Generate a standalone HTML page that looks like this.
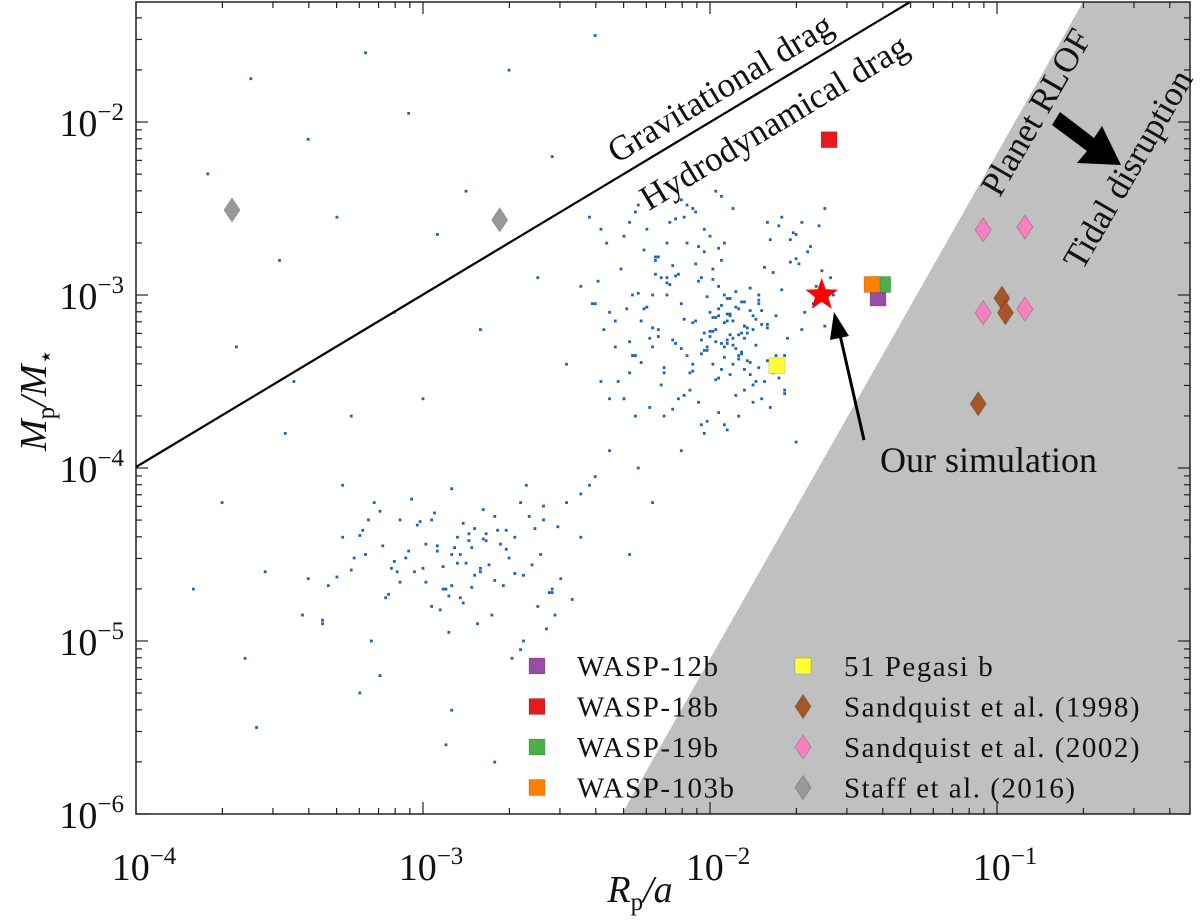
<!DOCTYPE html>
<html><head><meta charset="utf-8"><style>
body{margin:0;background:#fff;}
svg text{font-family:"Liberation Serif",serif;fill:#111;}
</style></head><body>
<svg id="chart" width="1200" height="919" xmlns="http://www.w3.org/2000/svg">
<g id="region"></g>
<g id="dots"></g>
<g id="axes"></g>
<g id="ann"></g>
<g id="marks"></g>
<g id="legend"></g>
</svg>
<script>
const xTicks=[-4,-3,-2,-1];
const yTicks=[-6,-5,-4,-3,-2];
const logRp=[-2.05,-1.98,-2.10,-1.92,-2.00,-1.95,-2.15,-1.88,-2.02,-1.97,-2.08,-1.90,-2.12,-1.85,-2.03,-1.99,-1.94,-2.06,-2.18,-1.91,
-2.01,-1.96,-2.09,-1.87,-2.04,-2.13,-1.93,-1.99,-2.07,-1.89,-2.20,-1.82,-2.11,-1.95,-2.00,-1.86,-2.16,-1.98,-2.05,-1.92,
-1.80,-2.25,-1.84,-2.22,-1.96,-2.03,-1.90,-2.14,-1.97,-2.01,-1.78,-2.28,-1.88,-2.19,-1.93,-2.06,-1.99,-2.10,-1.83,-2.02,
-2.30,-1.75,-2.24,-1.81,-2.17,-1.94,-2.08,-1.86,-2.12,-1.91,-2.35,-1.72,-2.27,-1.79,-2.21,-1.89,-2.04,-1.98,-2.15,-1.85,
-2.40,-1.70,-2.33,-1.76,-2.26,-1.83,-2.09,-1.95,-2.13,-1.88,-2.45,-1.68,-2.38,-1.74,-2.29,-1.80,-2.02,-1.97,-2.06,-1.92,
-2.85,-2.90,-2.80,-2.95,-2.75,-2.88,-3.00,-2.70,-2.92,-2.82,-3.05,-2.65,-2.87,-2.78,-2.97,-2.72,-3.10,-2.60,-2.84,-2.93,
-3.15,-2.55,-2.89,-2.76,-3.02,-2.68,-3.20,-2.50,-2.81,-2.99,-3.08,-2.63,-2.86,-2.74,-3.25,-2.45,-2.91,-2.79,-3.12,-2.58,
-3.30,-2.42,-2.94,-2.71,-3.18,-2.53,-2.83,-2.96,-3.35,-2.40,-2.77,-3.04,-2.66,-3.22,-2.48,-2.90,-3.40,-2.57,-3.01,-2.69,
-3.75,-3.60,-3.40,-3.20,-3.05,-2.85,-2.70,-2.55,-2.40,-3.50,-3.30,-3.10,-2.95,-2.60,-3.65,-3.45,-3.25,-2.80,-2.50,-2.30,
-3.70,-3.55,-3.35,-3.15,-2.90,-2.65,-2.45,-2.35,-2.25,-3.80,-3.62,-3.48,-3.28,-3.00,-2.75,-2.20,-2.10,-1.90,-1.70,-3.58,
-3.42,-3.22,-3.08,-2.92,-2.55,-2.38,-2.28,-2.15,-1.95,-1.60,
-1.93,-1.88,-1.96,-1.84,-1.91,-1.99,-1.86,-1.94,-1.90,-1.97,-1.87,-1.92,-2.00,-1.83,-1.95,-1.89,-1.98,-1.85,-1.93,-1.90,
-1.94,-1.88,-2.01,-1.82,-1.96,-1.91,-1.87,-1.99,-1.84,-1.95,-1.89,-1.92,-2.03,-1.86,-1.97,-1.93,-1.80,-2.02,-1.88,-1.94,
-2.42,-2.36,-2.31,-2.27,-2.22,-2.18,-2.33,-2.25,-2.39,-2.20,-2.30,-2.16,-2.41,-2.28,-2.35,-2.23,-2.37,-2.19,-2.32,-2.26,
-1.62,-1.66,-1.58,-1.72,-1.64,-1.69,-1.60,-1.75,-1.67,-1.63,-1.71,-1.57,-1.73,-1.65,-1.61,-1.77,-1.68,-1.59,-1.74,-1.70,
-2.10,-2.05,-1.98,-2.14,-2.08,-2.02,-1.96,-2.12,-2.06,-2.00,-2.16,-2.04,-1.94,-2.09,-2.13,-2.01,-2.07,-1.97,-2.11,-2.03,
-1.85,-1.78,-1.82,-1.76,-1.80,-1.74,-1.83,-1.79,-1.77,-1.81,-2.20,-2.24,-2.17,-2.21,-2.26,-2.19,-2.23,-2.15,-2.28,-2.18,
-2.95,-2.82,-2.78,-2.88,-2.73,-2.93,-2.86,-2.80,-2.99,-2.75,-3.06,-2.84,-2.91,-2.71,-3.03,-2.87,-2.79,-2.97,-2.83,-2.90,
-2.68,-2.62,-2.58,-2.52,-2.66,-2.56,-2.61,-2.54,-2.64,-2.59,-3.14,-3.19,-3.09,-3.24,-3.13,-3.28,-3.17,-3.11,-3.33,-3.21];
const logMq=[-3.15,-3.20,-3.05,-3.25,-3.10,-3.30,-3.00,-3.18,-3.22,-2.95,-3.35,-3.08,-3.28,-3.12,-2.90,-3.40,-3.02,-3.16,-3.24,-2.98,
-3.32,-3.06,-3.14,-3.38,-2.92,-3.26,-3.11,-2.85,-3.45,-3.04,-3.19,-3.09,-2.88,-3.36,-3.21,-2.96,-3.42,-3.13,-2.82,-3.29,
-3.17,-2.99,-3.50,-3.07,-2.80,-3.34,-3.23,-2.94,-3.48,-3.01,-2.87,-3.27,-3.55,-2.78,-3.12,-3.44,-2.91,-3.31,-3.03,-2.75,
-3.60,-2.97,-3.39,-2.84,-3.52,-3.15,-2.70,-3.46,-2.89,-3.58,-3.10,-2.81,-3.35,-2.68,-3.65,-3.22,-2.72,-3.49,-2.93,-3.62,
-3.05,-2.65,-3.30,-2.60,-3.70,-3.00,-2.55,-3.75,-2.83,-3.43,-2.95,-3.20,-2.62,-3.57,-3.08,-2.58,-3.80,-2.73,-3.40,-2.50,
-4.55,-4.50,-4.60,-4.45,-4.65,-4.40,-4.58,-4.52,-4.70,-4.35,-4.48,-4.62,-4.75,-4.42,-4.30,-4.68,-4.54,-4.80,-4.38,-4.57,
-4.25,-4.72,-4.46,-4.85,-4.33,-4.61,-4.50,-4.20,-4.90,-4.44,-4.66,-4.28,-4.78,-4.36,-4.59,-4.15,-4.95,-4.41,-4.73,-4.22,
-4.63,-4.10,-4.82,-4.47,-5.00,-4.34,-4.69,-4.26,-4.88,-4.05,-4.56,-4.18,-5.05,-4.39,-4.76,-4.12,-4.64,-4.93,-4.31,-5.10,
-2.30,-1.75,-2.10,-1.60,-1.95,-2.40,-1.70,-2.20,-1.50,-2.80,-2.55,-3.10,-2.65,-2.90,-3.30,-3.50,-3.70,-3.20,-3.40,-3.60,
-4.20,-4.60,-4.90,-5.20,-5.40,-5.00,-4.40,-3.90,-4.00,-4.70,-5.10,-3.80,-4.10,-3.60,-5.70,-4.20,-3.90,-3.70,-3.85,-5.50,
-4.85,-5.30,-4.30,-5.60,-4.70,-3.50,-4.50,-2.90,-2.70,-2.50,
-3.23,-3.18,-3.28,-3.14,-3.31,-3.21,-3.09,-3.26,-3.35,-3.12,-3.19,-3.40,-3.24,-3.05,-3.16,-3.33,-3.27,-3.20,-3.02,-3.37,
-3.11,-3.25,-3.30,-3.17,-3.43,-3.07,-3.22,-3.13,-3.29,-3.00,-3.34,-3.15,-3.26,-3.39,-3.08,-3.46,-3.19,-3.32,-3.04,-3.28,
-2.55,-2.70,-2.85,-3.00,-2.62,-2.78,-3.15,-2.48,-2.92,-3.30,-2.66,-3.45,-3.05,-2.58,-3.60,-2.74,-3.20,-2.88,-3.50,-2.52,
-2.60,-2.75,-2.90,-2.68,-3.05,-2.82,-3.18,-2.55,-3.10,-2.95,-2.64,-3.00,-3.25,-2.72,-2.86,-3.12,-2.58,-2.98,-3.35,-2.79,
-2.45,-2.52,-2.40,-2.58,-2.48,-2.62,-2.43,-2.56,-2.50,-2.66,-3.70,-3.62,-3.78,-3.58,-3.66,-3.73,-3.55,-3.68,-3.60,-3.75,
-3.52,-3.45,-3.60,-3.48,-3.38,-3.55,-3.42,-3.65,-3.35,-3.50,-3.00,-3.15,-2.90,-3.25,-3.35,-2.80,-3.08,-2.70,-3.45,-3.20,
-4.48,-4.62,-4.38,-4.55,-4.44,-4.70,-4.32,-4.58,-4.66,-4.28,-4.52,-4.42,-4.74,-4.36,-4.60,-4.50,-4.24,-4.80,-4.46,-4.68,
-4.40,-4.56,-4.30,-4.64,-4.20,-4.72,-4.35,-4.85,-4.10,-4.50,-4.45,-4.30,-4.60,-4.52,-4.75,-4.40,-4.20,-4.58,-4.68,-4.36];
const planetNames=["WASP-12b","WASP-18b","WASP-19b","WASP-103b","51 Pegasi b"];
const planetRp=[0.0385,0.026,0.040,0.0367,0.0171];
const planetMq=[0.00096,0.0079,0.00115,0.00115,0.00039];
const planetColors=["#984ea3","#e41a1c","#4daf4a","#ff7f00","#ffff33"];
const s98Rp=[0.104,0.107,0.086];
const s98Mq=[0.00096,0.00079,0.000235];
const s02Rp=[0.0895,0.125,0.0895,0.125];
const s02Mq=[0.00238,0.00247,0.00079,0.00083];
const staffRp=[0.000216,0.00185];
const staffMq=[0.0031,0.00272];
const simRp=[0.0245], simMq=[0.001];

const L=136,R=1190,T=2,B=814;
const X=v=>L+(Math.log10(v)+4)*287;
const Y=v=>B-(Math.log10(v)+6)*173;
const XL=l=>L+(l+4)*287, YL=l=>B-(l+6)*173;
const NS="http://www.w3.org/2000/svg";
function mk(tag,attrs,parent){const e=document.createElementNS(NS,tag);for(const k in attrs)e.setAttribute(k,attrs[k]);parent.appendChild(e);return e;}
const G=id=>document.getElementById(id);

let reg=mk('polygon',{points:`622,${B} 1083,${T} ${R},${T} ${R},${B}`,fill:'#c0c0c0'},G('region'));



for(let i=0;i<logRp.length;i++){
  const d=mk('rect',{x:XL(logRp[i])-1.4,y:YL(logMq[i])-1.4,width:2.8,height:2.8,fill:'#1a64b0'},G('dots'));
  
  
}

const ax=G('axes');
let fr=mk('rect',{x:L,y:T,width:R-L,height:B-T,fill:'none',stroke:'#222','stroke-width':1.5},ax);


for(let d=-4;d<0;d++){for(let m=1;m<10;m++){const l=d+Math.log10(m);const x=XL(l);if(x>R)continue;const len=m==1?12:6;
  mk('line',{x1:x,x2:x,y1:B,y2:B-len,stroke:'#222','stroke-width':1.2},ax);mk('line',{x1:x,x2:x,y1:T,y2:T+len,stroke:'#222','stroke-width':1.2},ax);}}
for(let d=-6;d<-1;d++){for(let m=1;m<10;m++){const l=d+Math.log10(m);const y=YL(l);if(y<T)continue;const len=m==1?12:6;
  mk('line',{x1:L,x2:L+len,y1:y,y2:y,stroke:'#222','stroke-width':1.2},ax);mk('line',{x1:R,x2:R-len,y1:y,y2:y,stroke:'#222','stroke-width':1.2},ax);}}
xTicks.forEach(t=>{const e=mk('text',{x:XL(t)+8,y:880,'text-anchor':'middle','font-size':38},ax);
  e.innerHTML=`10<tspan dy="-16" font-size="25">−${-t}</tspan>`;
  
  });
yTicks.forEach(t=>{const e=mk('text',{x:124,y:YL(t)+14,'text-anchor':'end','font-size':38},ax);
  e.innerHTML=`10<tspan dy="-16" font-size="25">−${-t}</tspan>`;
  
  });
let xt=mk('text',{x:640,y:902,'text-anchor':'middle','font-size':38,'font-style':'italic'},ax);
xt.innerHTML='R<tspan font-size="25" dy="8" font-style="normal">p</tspan><tspan dy="-8">/a</tspan>';


let yt=mk('text',{x:0,y:0,'text-anchor':'middle','font-size':38,'font-style':'italic',transform:'translate(46,400) rotate(-90)'},ax);
yt.innerHTML='M<tspan font-size="25" dy="8" font-style="normal">p</tspan><tspan dy="-8">/M</tspan><tspan font-size="25" dy="8" font-style="normal">⋆</tspan>';



const an=G('ann');
let ln=mk('line',{x1:L,y1:467,x2:910,y2:T,stroke:'#000','stroke-width':2.2},an);


const ang=-31.1;
[['Gravitational drag',726,98,35],['Hydrodynamical drag',780,132,35]].forEach(([s,x,y,f])=>{
  const e=mk('text',{x:0,y:0,'text-anchor':'middle','font-size':f,transform:`translate(${x},${y}) rotate(${ang})`},an);
  e.textContent=s;
  
  });
[['Planet RLOF',1046,118],['Tidal disruption',1138,175]].forEach(([s,x,y])=>{
  const e=mk('text',{x:0,y:0,'text-anchor':'middle','font-size':35,transform:`translate(${x},${y}) rotate(-60)`},an);
  e.textContent=s;
  
  });
let ar=mk('polygon',{points:'1060,112 1094,138 1102,126 1121,165 1077,163 1087,151 1052,125',fill:'#000'},an);


let ot=mk('text',{x:880,y:472,'font-size':36},an);ot.textContent='Our simulation';


let sl=mk('line',{x1:864,y1:440,x2:840,y2:335,stroke:'#000','stroke-width':3},an);


mk('polygon',{points:'834,312 830,340 849,336',fill:'#000'},an);

const mg=G('marks');
function sq(x,y,c,p,n){const e=mk('rect',{x:x-8,y:y-8,width:16,height:16,fill:c,stroke:'rgba(0,0,0,0.15)'},p);}
function dm(x,y,c,p,n){const e=mk('polygon',{points:`${x},${y-12} ${x+8},${y} ${x},${y+12} ${x-8},${y}`,fill:c,stroke:'rgba(0,0,0,0.2)'},p);}
planetNames.forEach((n,i)=>sq(X(planetRp[i]),Y(planetMq[i]),planetColors[i],mg,'planet-'+n.toLowerCase().replace(/ /g,'-')));
s98Rp.forEach((v,i)=>dm(X(v),Y(s98Mq[i]),'#a65628',mg,'sandquist-1998-point'));
s02Rp.forEach((v,i)=>dm(X(v),Y(s02Mq[i]),'#f781bf',mg,'sandquist-2002-point'));
staffRp.forEach((v,i)=>dm(X(v),Y(staffMq[i]),'#999999',mg,'staff-2016-point'));
simRp.forEach((v,i)=>{const cx=X(v),cy=Y(simMq[i]);let pts=[];for(let k=0;k<10;k++){const r=k%2?7:17;const a=-Math.PI/2+k*Math.PI/5;pts.push((cx+r*Math.cos(a)).toFixed(1)+','+(cy+r*Math.sin(a)).toFixed(1));}
  const e=mk('polygon',{points:pts.join(' '),fill:'#ff0000'},mg);
  
  });

const lg=G('legend');
const legItems=[["WASP-12b","sq","#984ea3"],["WASP-18b","sq","#e41a1c"],["WASP-19b","sq","#4daf4a"],["WASP-103b","sq","#ff7f00"],
["51 Pegasi b","sq","#ffff33"],["Sandquist et al. (1998)","dm","#a65628"],["Sandquist et al. (2002)","dm","#f781bf"],["Staff et al. (2016)","dm","#999999"]];
legItems.forEach((it,i)=>{const col=Math.floor(i/4),row=i%4;const mx=col?803:537,tx=col?844:577,y=666+row*40.5;
  if(it[1]=='sq')sq(mx,y,it[2],lg,'legend-marker');else dm(mx,y,it[2],lg,'legend-marker');
  const e=mk('text',{x:tx,y:y+10,'font-size':29,'letter-spacing':1.5},lg);e.textContent=it[0];
  
  });
</script>
</body></html>
